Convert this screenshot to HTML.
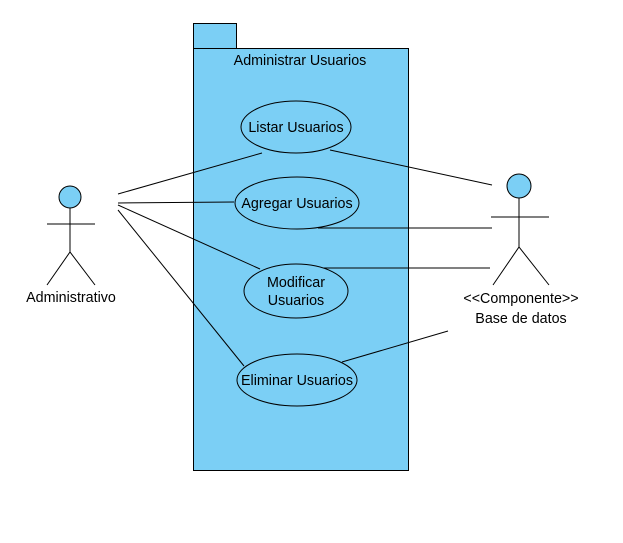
<!DOCTYPE html>
<html><head><style>body{margin:0;background:#fff}svg{display:block}</style></head><body>
<svg width="623" height="543" xmlns="http://www.w3.org/2000/svg" font-family="Liberation Sans, sans-serif" font-size="14.3">
<rect x="193.5" y="23.5" width="43" height="25" fill="#7bcff5" stroke="#000"/>
<rect x="193.5" y="48.5" width="215" height="422" fill="#7bcff5" stroke="#000"/>
<text x="300" y="65" text-anchor="middle">Administrar Usuarios</text>
<g fill="none" stroke="#000">
<line x1="118" y1="194" x2="262" y2="153"/>
<line x1="118" y1="203" x2="234" y2="202"/>
<line x1="118" y1="205" x2="260" y2="269"/>
<line x1="118" y1="210" x2="244" y2="366"/>
<line x1="330" y1="150" x2="492" y2="185"/>
<line x1="318" y1="228" x2="492" y2="228"/>
<line x1="318" y1="268" x2="490" y2="268"/>
<line x1="342" y1="362" x2="448" y2="331"/>
</g>
<g fill="#7bcff5" stroke="#000">
<ellipse cx="296" cy="127" rx="55" ry="26"/>
<ellipse cx="297" cy="203" rx="62" ry="26"/>
<ellipse cx="296" cy="291" rx="52" ry="27"/>
<ellipse cx="297" cy="380" rx="60" ry="26"/>
</g>
<g text-anchor="middle">
<text x="296" y="132">Listar Usuarios</text>
<text x="297" y="208">Agregar Usuarios</text>
<text x="296" y="287">Modificar</text>
<text x="296" y="305">Usuarios</text>
<text x="297" y="385">Eliminar Usuarios</text>
</g>
<g stroke="#000" fill="none">
<circle cx="70" cy="197" r="11" fill="#7bcff5"/>
<line x1="70" y1="208" x2="70" y2="252"/>
<line x1="47" y1="224" x2="95" y2="224"/>
<polyline points="47,285 70,252 95,285"/>
<circle cx="519" cy="186" r="12" fill="#7bcff5"/>
<line x1="519" y1="198" x2="519" y2="247"/>
<line x1="491" y1="217" x2="549" y2="217"/>
<polyline points="493,285 519,247 549,285"/>
</g>
<g text-anchor="middle">
<text x="71" y="302">Administrativo</text>
<text x="521" y="303">&lt;&lt;Componente&gt;&gt;</text>
<text x="521" y="323">Base de datos</text>
</g>
</svg>
</body></html>
